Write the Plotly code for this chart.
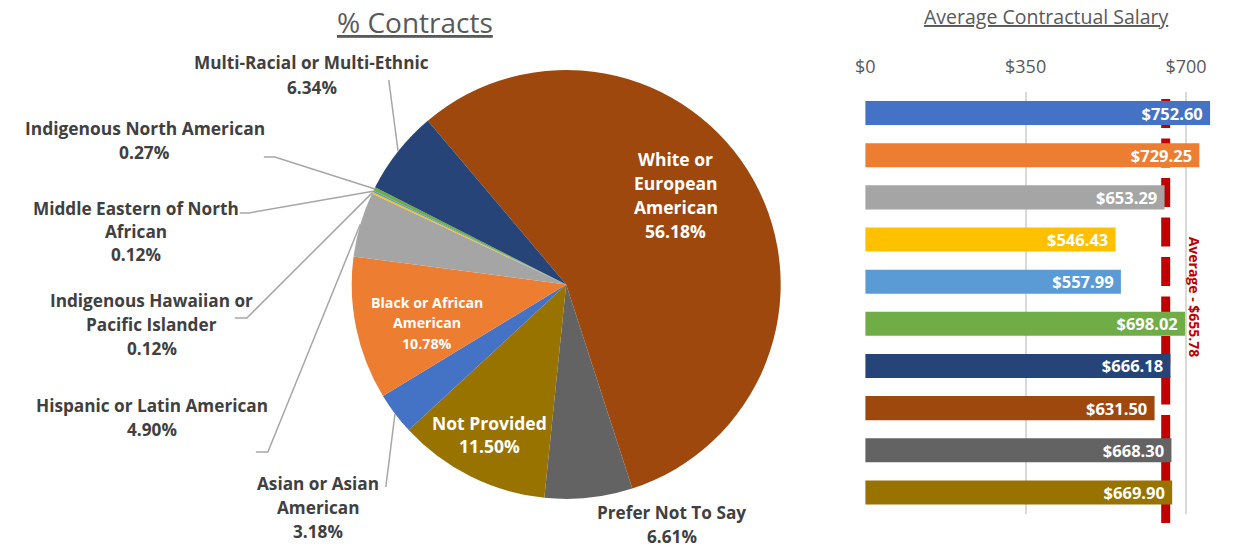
import math
import plotly.graph_objects as go

W, H = 1242, 552

# ---------------- data ----------------
pie_categories = [
    "White or European American", "Prefer Not To Say", "Not Provided",
    "Asian or Asian American", "Black or African American",
    "Hispanic or Latin American", "Indigenous Hawaiian or Pacific Islander",
    "Middle Eastern of North African", "Indigenous North American",
    "Multi-Racial or Multi-Ethnic",
]
pie_pct = [56.18, 6.61, 11.50, 3.18, 10.78, 4.90, 0.12, 0.12, 0.27, 6.34]
pie_colors = ["#9E480E", "#636363", "#997300", "#4472C4", "#ED7D31",
              "#A5A5A5", "#FFC000", "#5B9BD5", "#70AD47", "#264478"]

bar_categories = [
    "Asian or Asian American", "Black or African American",
    "Hispanic or Latin American", "Indigenous Hawaiian or Pacific Islander",
    "Middle Eastern of North African", "Indigenous North American",
    "Multi-Racial or Multi-Ethnic", "White or European American",
    "Prefer Not To Say", "Not Provided",
]
salary = [752.60, 729.25, 653.29, 546.43, 557.99, 698.02, 666.18, 631.50, 668.30, 669.90]
bar_colors = ["#4472C4", "#ED7D31", "#A5A5A5", "#FFC000", "#5B9BD5",
              "#70AD47", "#264478", "#9E480E", "#636363", "#997300"]
average_salary = 655.78

salary_ticks = [0, 350, 700]
salary_tick_labels = ["$0", "$350", "$700"]

pie_label_lines = {
    "White or European American": ["White or", "European", "American"],
    "Prefer Not To Say": ["Prefer Not To Say"],
    "Not Provided": ["Not Provided"],
    "Asian or Asian American": ["Asian or Asian", "American"],
    "Black or African American": ["Black or African", "American"],
    "Hispanic or Latin American": ["Hispanic or Latin American"],
    "Indigenous Hawaiian or Pacific Islander": ["Indigenous Hawaiian or", "Pacific Islander"],
    "Middle Eastern of North African": ["Middle Eastern of North", "African"],
    "Indigenous North American": ["Indigenous North American"],
    "Multi-Racial or Multi-Ethnic": ["Multi-Racial or Multi-Ethnic"],
}

# ---------------- layout helpers ----------------
SX_OFF, SX_SCALE = 10.0, 0.9925   # horizontal calibration of the captured page


def px(x):
    return ((x - SX_OFF) / SX_SCALE) / W


def py(y):
    return 1 - y / H


FONT = "Open Sans"
TXT = "#404040"
SUB = "#595959"

PIE_CX, PIE_CY, PIE_R = 566.5, 284.5, 214.6
ROT = -40.2

fig = go.Figure()

fig.add_trace(go.Pie(
    labels=pie_categories, values=pie_pct, sort=False, direction="clockwise",
    rotation=ROT, marker=dict(colors=pie_colors, line=dict(width=0)),
    textinfo="none", showlegend=False,
    domain=dict(x=[px(PIE_CX - PIE_R), px(PIE_CX + PIE_R)],
                y=[py(PIE_CY + PIE_R), py(PIE_CY - PIE_R)]),
))

fig.add_trace(go.Bar(
    y=bar_categories, x=salary, orientation="h",
    marker=dict(color=bar_colors, line=dict(width=0)),
    text=[f"<b>${v:,.2f}</b> " for v in salary],
    textposition="inside", insidetextanchor="end", constraintext="none",
    textfont=dict(family=FONT, size=16.5, color="white"),
    showlegend=False, xaxis="x", yaxis="y",
))

# slice mid-angles from data
total = sum(pie_pct)
mid_pts = {}
cum = 0.0
for c, v in zip(pie_categories, pie_pct):
    a = math.radians(ROT + 360 * (cum + v / 2) / total)
    mid_pts[c] = (PIE_CX + PIE_R * math.sin(a), PIE_CY - PIE_R * math.cos(a))
    cum += v

# label placement: center x, first-line y, font size, color, line spacing
label_pos = {
    "White or European American": (676, 159, 17.5, "white", 24),
    "Prefer Not To Say": (672, 512, 17.2, TXT, 24),
    "Not Provided": (490, 423, 17.5, "white", 23),
    "Asian or Asian American": (318, 483, 17.2, TXT, 24),
    "Black or African American": (427, 302, 14.2, "white", 20.5),
    "Hispanic or Latin American": (152, 405, 17.2, TXT, 24),
    "Indigenous Hawaiian or Pacific Islander": (152, 300, 17.2, TXT, 24),
    "Middle Eastern of North African": (136, 208, 17.2, TXT, 23.5),
    "Indigenous North American": (145, 128, 17.4, TXT, 24),
    "Multi-Racial or Multi-Ethnic": (312, 63, 17.2, TXT, 24),
}

annotations = []
for c, v in zip(pie_categories, pie_pct):
    cx, y0, fs, col, ls = label_pos[c]
    lines = pie_label_lines[c] + [f"{v:.2f}%"]
    for i, t in enumerate(lines):
        annotations.append(dict(
            x=px(cx), y=py(y0 + i * ls), xref="paper", yref="paper",
            text=f"<b>{t}</b>", showarrow=False, xanchor="center", yanchor="middle",
            font=dict(family=FONT, size=fs, color=col)))

# leader lines (label-side anchor points; slice end computed from data)
leaders = {
    "Multi-Racial or Multi-Ethnic": [(389, 80)],
    "Indigenous North American": [(264, 157), (275, 157)],
    "Middle Eastern of North African": [(240, 213), (249, 213)],
    "Indigenous Hawaiian or Pacific Islander": [(235, 318), (247, 318)],
    "Hispanic or Latin American": [(256, 452), (268, 452)],
    "Asian or Asian American": [(386, 487)],
}
shapes = []
for c, pts in leaders.items():
    all_pts = pts + [mid_pts[c]]
    path = "M " + " L ".join(f"{px(x)},{py(y)}" for x, y in all_pts)
    shapes.append(dict(type="path", path=path, xref="paper", yref="paper",
                       line=dict(color="#A6A6A6", width=1.5)))

# average line
shapes.append(dict(type="line", xref="x", yref="paper",
                   x0=average_salary, x1=average_salary, y0=py(99), y1=py(525),
                   line=dict(color="#C00000", width=9, dash="29px,10.5px"),
                   layer="between"))

annotations.append(dict(
    x=px(1195), y=py(297), xref="paper", yref="paper",
    xanchor="center", yanchor="middle",
    text=f"<b>Average - ${average_salary:,.2f}</b>", textangle=90, showarrow=False,
    font=dict(family=FONT, size=14, color="#C00000")))

# titles
annotations.append(dict(x=px(415), y=py(22), xref="paper", yref="paper",
                        xanchor="center", yanchor="middle",
                        text="<u>% Contracts</u>", showarrow=False,
                        font=dict(family=FONT, size=28, color=SUB)))
annotations.append(dict(x=px(1047), y=py(16), xref="paper", yref="paper",
                        xanchor="center", yanchor="middle",
                        text="<u>Average Contractual Salary</u>", showarrow=False,
                        font=dict(family=FONT, size=19.5, color=SUB)))

fig.update_layout(
    width=W, height=H, margin=dict(l=0, r=0, t=0, b=0),
    paper_bgcolor="white", plot_bgcolor="white",
    bargap=0.43,
    xaxis=dict(domain=[px(865.7), min(1.0, px(1221))], range=[0, 775], side="top",
               tickvals=salary_ticks, ticktext=salary_tick_labels,
               showgrid=True, gridcolor="#D9D9D9", gridwidth=1.5,
               zeroline=False, showline=False, ticks="",
               ticklabelstandoff=14,
               tickfont=dict(family=FONT, size=18, color=SUB), fixedrange=True),
    yaxis=dict(domain=[py(513.5), py(92)], autorange="reversed",
               showticklabels=False, showgrid=False, zeroline=False, ticks=""),
    annotations=annotations, shapes=shapes,
)

post = (
    "document.documentElement.style.margin='0px';"
    "document.documentElement.style.overflow='hidden';"
    "document.body.style.margin='0px';"
    "document.body.style.padding='0px';"
    "document.body.style.overflow='hidden';"
    "var gd=document.getElementById('{plot_id}');"
    "gd.style.position='absolute';gd.style.left='0px';gd.style.top='0px';"
)
fig.write_html("out.html", config={"displayModeBar": False}, post_script=post)
